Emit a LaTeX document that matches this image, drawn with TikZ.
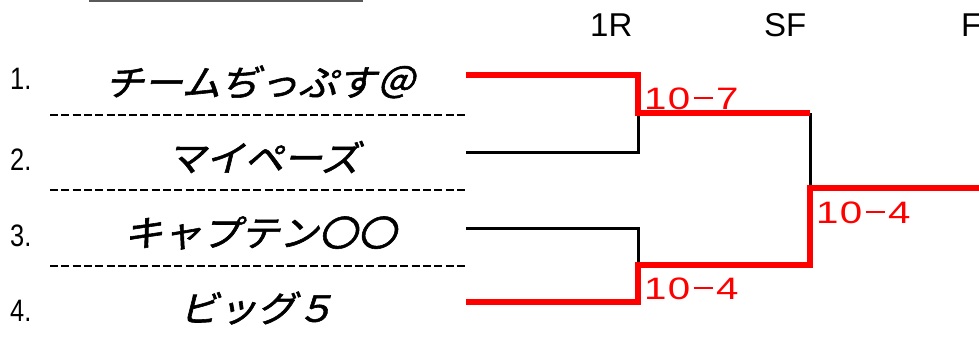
\documentclass[tikz,border=0pt]{standalone}
\usepackage{fontspec}
\setmainfont{Liberation Sans}
\newfontfamily\jpname[FakeSlant=0.25,FakeStretch=1.08,FakeBold=1.6]{Noto Sans CJK JP}
\newfontfamily\narrowsans[FakeStretch=0.82]{Liberation Sans}
\newfontfamily\widesans[FakeStretch=1.3]{Liberation Sans}
\definecolor{win}{RGB}{255,0,0}
\newcommand{\sch}[1]{\makebox[24pt][c]{#1}}
\newcommand{\scoretext}[3]{\sch{#1}\sch{#2}\sch{\rule[0.36em]{19pt}{1.8pt}}\sch{#3}}
\begin{document}
\begin{tikzpicture}[x=1pt,y=-1pt,
  namebox/.style={font=\jpname\fontsize{36}{38}\selectfont, inner sep=0pt, anchor=center},
  numlabel/.style={font=\narrowsans\fontsize{31}{33}\selectfont, inner sep=0pt, anchor=west},
  header/.style={font=\fontsize{33}{35}\selectfont, inner sep=0pt, anchor=west},
  score/.style={font=\widesans\fontsize{31}{33}\selectfont, text=win, inner sep=0pt, anchor=west},
  sep/.style={line width=2pt, dash pattern=on 8pt off 3.3pt},
  lose/.style={line width=3pt, line join=miter},
  winline/.style={line width=6pt, draw=win, line join=miter}]
\useasboundingbox (0,0) rectangle (979,340);
% title underline (cut off)
\coordinate (u1) at (89,1); \coordinate (u2) at (363,1);
\draw[line width=1.5pt, gray!70!black] (u1) -- (u2);
% headers
\node[header] (h1) at (590,25) {1R};
\node[header] (h2) at (764,25) {SF};
\node[header] (h3) at (961,25) {F};
% seeds
\node[numlabel] (n1) at (10,79) {1.};
\node[numlabel] (n2) at (10,160) {2.};
\node[numlabel] (n3) at (10,236) {3.};
\node[numlabel] (n4) at (10,311) {4.};
% team names
\node[namebox] (a) at (260,82) {チームぢっぷす＠};
\node[namebox] (b) at (263,157) {マイペーズ};
\node[namebox] (c) at (260,233) {キャプテン〇〇};
\node[namebox] (d) at (257,308) {ビッグ５};
% separators
\coordinate (s1l) at (50,115); \coordinate (s1r) at (468,115);
\coordinate (s2l) at (50,190); \coordinate (s2r) at (468,190);
\coordinate (s3l) at (50,266); \coordinate (s3r) at (468,266);
\draw[sep] (s1l) -- (s1r);
\draw[sep] (s2l) -- (s2r);
\draw[sep] (s3l) -- (s3r);
% bracket points
\coordinate (e1) at (466,75);  \coordinate (e2) at (466,152);
\coordinate (e3) at (466,228); \coordinate (e4) at (466,302);
\coordinate (m1) at (638,113); \coordinate (m2) at (638,265);
\coordinate (f1) at (810,113); \coordinate (f2) at (810,265);
\coordinate (fm) at (810,188); \coordinate (fin) at (982,188);
% losers (black)
\draw[lose] (e2) -| (m1);
\draw[lose] (e3) -| (m2);
\draw[lose] (f1) -- (fm);
% winners (red)
\draw[winline] (e1) -| (m1) -- (f1);
\draw[winline] (e4) -| (m2) -- (f2) -- (fm) -- (fin);
% scores
\node[score] (r1) at (643,99) {\scoretext{1}{0}{7}};
\node[score] (r2) at (643,289) {\scoretext{1}{0}{4}};
\node[score] (r3) at (815,213) {\scoretext{1}{0}{4}};
\end{tikzpicture}
\end{document}
